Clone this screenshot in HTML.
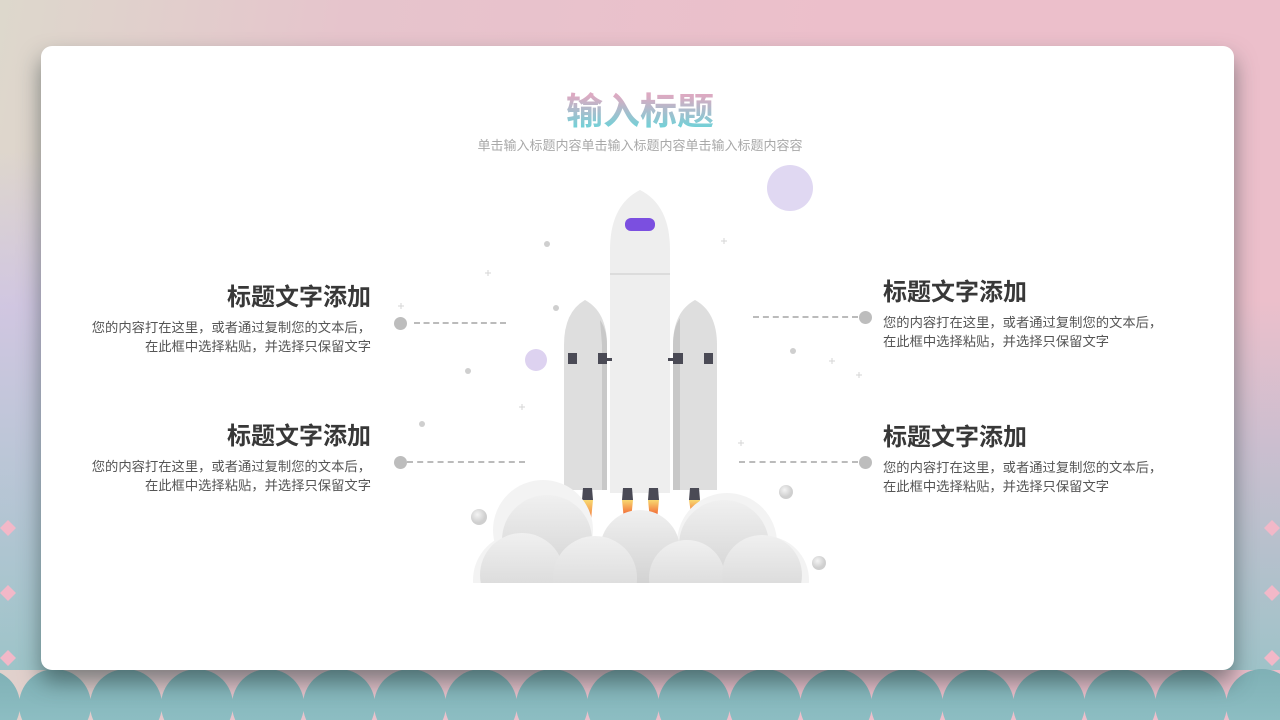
<!DOCTYPE html>
<html><head><meta charset="utf-8"><style>
*{margin:0;padding:0;box-sizing:border-box}
body{width:1280px;height:720px;overflow:hidden;position:relative;font-family:"Liberation Sans","Noto Sans CJK SC",sans-serif;
background:linear-gradient(100deg,#ddd8cc 0%,#e6c4cc 25%,#ecbfcb 60%,#ecbfcb 100%);}
.bgl{position:absolute;left:0;top:150px;width:60px;height:520px;background:linear-gradient(180deg,rgba(210,200,230,0),rgba(205,195,230,.8) 30%,rgba(150,195,200,.9) 100%)}
.bgr{position:absolute;right:0;top:300px;width:60px;height:370px;background:linear-gradient(180deg,rgba(210,200,230,0),rgba(180,190,210,.6) 40%,rgba(150,195,200,.9) 100%)}
.card{position:absolute;left:41px;top:46px;width:1193px;height:624px;background:#fff;border-radius:11px;box-shadow:0 12px 22px rgba(40,60,60,.55)}
.t{position:absolute;font-family:"Liberation Sans","Noto Sans CJK SC",sans-serif}
.h{font-size:24px;font-weight:bold;color:#383838;line-height:30px;white-space:nowrap}
.b{font-size:13.3px;color:#555;line-height:19px;white-space:nowrap}
.dot{position:absolute;width:13px;height:13px;border-radius:50%;background:#bdbdbd}
.dash{position:absolute;height:0;border-top:2px dashed #bbb}
</style></head><body>
<div class="bgl"></div><div class="bgr"></div>
<svg style="position:absolute;left:0;top:0" width="1280" height="720">
<defs><linearGradient id="tc" x1="0" y1="0" x2="0" y2="1"><stop offset="0" stop-color="#7fb0b5"/><stop offset="1" stop-color="#92c3c8"/></linearGradient></defs>
<g fill="url(#tc)">
<circle cx="-16" cy="705" r="36"/><circle cx="55" cy="705" r="36"/><circle cx="126" cy="705" r="36"/><circle cx="197" cy="705" r="36"/><circle cx="268" cy="705" r="36"/><circle cx="339" cy="705" r="36"/><circle cx="410" cy="705" r="36"/><circle cx="481" cy="705" r="36"/><circle cx="552" cy="705" r="36"/><circle cx="623" cy="705" r="36"/><circle cx="694" cy="705" r="36"/><circle cx="765" cy="705" r="36"/><circle cx="836" cy="705" r="36"/><circle cx="907" cy="705" r="36"/><circle cx="978" cy="705" r="36"/><circle cx="1049" cy="705" r="36"/><circle cx="1120" cy="705" r="36"/><circle cx="1191" cy="705" r="36"/><circle cx="1262" cy="705" r="36"/><circle cx="1333" cy="705" r="36"/>
</g>
<g fill="#f2b8c8"><path d="M8 585l8 8-8 8-8-8z"/><path d="M8 650l8 8-8 8-8-8z"/><path d="M1272 585l8 8-8 8-8-8z"/><path d="M1272 650l8 8-8 8-8-8z"/><path d="M1272 520l8 8-8 8-8-8z"/><path d="M8 520l8 8-8 8-8-8z"/></g>
</svg>
<div class="card"></div>
<div class="t" style="left:440px;top:89px;width:400px;text-align:center;font-size:37px;font-weight:bold;line-height:46px;background:linear-gradient(180deg,#dcaac2 15%,#6fd2d8 85%);-webkit-background-clip:text;background-clip:text;color:transparent">输入标题</div>
<div class="t" style="left:440px;top:137px;width:400px;text-align:center;font-size:13px;color:#a8a8a8;line-height:18px">单击输入标题内容单击输入标题内容单击输入标题内容容</div>

<div class="t h" style="right:909px;top:283px;text-align:right">标题文字添加</div>
<div class="t b" style="right:909px;top:318px;text-align:right">您的内容打在这里，或者通过复制您的文本后，<br>在此框中选择粘贴，并选择只保留文字</div>
<div class="t h" style="right:909px;top:422px;text-align:right">标题文字添加</div>
<div class="t b" style="right:909px;top:457px;text-align:right">您的内容打在这里，或者通过复制您的文本后，<br>在此框中选择粘贴，并选择只保留文字</div>
<div class="t h" style="left:883px;top:278px">标题文字添加</div>
<div class="t b" style="left:883px;top:313px">您的内容打在这里，或者通过复制您的文本后，<br>在此框中选择粘贴，并选择只保留文字</div>
<div class="t h" style="left:883px;top:423px">标题文字添加</div>
<div class="t b" style="left:883px;top:458px">您的内容打在这里，或者通过复制您的文本后，<br>在此框中选择粘贴，并选择只保留文字</div>

<div class="dot" style="left:394px;top:317px"></div><div class="dash" style="left:414px;top:322px;width:92px"></div>
<div class="dot" style="left:394px;top:456px"></div><div class="dash" style="left:407px;top:461px;width:118px"></div>
<div class="dot" style="left:859px;top:311px"></div><div class="dash" style="left:753px;top:316px;width:105px"></div>
<div class="dot" style="left:859px;top:456px"></div><div class="dash" style="left:739px;top:461px;width:119px"></div>

<svg style="position:absolute;left:0;top:0" width="1280" height="720">
<defs>
<linearGradient id="fl" x1="0" y1="0" x2="0" y2="1"><stop offset="0" stop-color="#f8d870"/><stop offset="1" stop-color="#f04020"/></linearGradient>
<linearGradient id="cl" x1="0" y1="0" x2="0" y2="1"><stop offset="0" stop-color="#f0f0f0"/><stop offset="1" stop-color="#d0d0d0"/></linearGradient>
<radialGradient id="ball" cx=".4" cy=".35"><stop offset="0" stop-color="#f4f4f4"/><stop offset="1" stop-color="#cfcfcf"/></radialGradient>
<clipPath id="cc"><rect x="400" y="400" width="500" height="183"/></clipPath>
</defs>
<circle cx="790" cy="188" r="23" fill="#e0d8f2"/>
<circle cx="536" cy="360" r="11" fill="#ddd2f0"/>
<g fill="#cfcfcf"><circle cx="547" cy="244" r="3"/><circle cx="556" cy="308" r="3"/><circle cx="468" cy="371" r="3"/><circle cx="422" cy="424" r="3"/><circle cx="793" cy="351" r="3"/></g>
<g stroke="#d5d5d5" stroke-width="1"><path d="M485 273h6M488 270v6M398 306h6M401 303v6M519 407h6M522 404v6M721 241h6M724 238v6M829 361h6M832 358v6M856 375h6M859 372v6M738 443h6M741 440v6"/></g>
<path d="M582 500h11l-3 30h-4z" fill="url(#fl)"/>
<path d="M622 500h11l-2 20h-7z" fill="url(#fl)"/>
<path d="M648 500h11l-2 20h-7z" fill="url(#fl)"/>
<path d="M689 500h11l-3 20h-5z" fill="url(#fl)"/>
<path d="M564 490V345Q564 312 585 300Q607 312 607 345V490z" fill="#dedede"/>
<path d="M600 320Q607 330 607 345V490h-5V345z" fill="#c8c8c8"/>
<path d="M673 490V345Q673 312 695 300Q717 312 717 345V490z" fill="#dedede"/>
<path d="M673 345Q673 328 680 318V490h-7z" fill="#c8c8c8"/>
<path d="M610 493V250Q610 205 640 190Q670 205 670 250V493z" fill="#eeeeee"/>
<line x1="610" y1="274" x2="670" y2="274" stroke="#d6d6d6" stroke-width="1.5"/>
<rect x="625" y="218" width="30" height="13" rx="6" fill="#7b4fe0"/>
<g fill="#4a4a55"><rect x="568" y="353" width="9" height="11"/><rect x="598" y="353" width="9" height="11"/><rect x="607" y="358" width="5" height="3"/><rect x="673" y="353" width="10" height="11"/><rect x="668" y="358" width="5" height="3"/><rect x="704" y="353" width="9" height="11"/>
<path d="M583 488h9l1 12h-11z"/><path d="M623 488h9l1 12h-11z"/><path d="M649 488h9l1 12h-11z"/><path d="M690 488h9l1 12h-11z"/></g>
<g clip-path="url(#cc)">
<g fill="#f3f3f3"><circle cx="543" cy="530" r="50"/><circle cx="727" cy="543" r="50"/><circle cx="520" cy="580" r="47"/><circle cx="765" cy="580" r="44"/></g>
<g fill="url(#cl)">
<circle cx="547" cy="540" r="45"/><circle cx="640" cy="550" r="40"/><circle cx="724" cy="545" r="45"/>
<circle cx="522" cy="575" r="42"/><circle cx="595" cy="578" r="42"/><circle cx="687" cy="578" r="38"/><circle cx="762" cy="575" r="40"/>
</g>
</g>
<circle cx="479" cy="517" r="8" fill="url(#ball)"/><circle cx="786" cy="492" r="7" fill="url(#ball)"/><circle cx="819" cy="563" r="7" fill="url(#ball)"/>
</svg>
</body></html>
